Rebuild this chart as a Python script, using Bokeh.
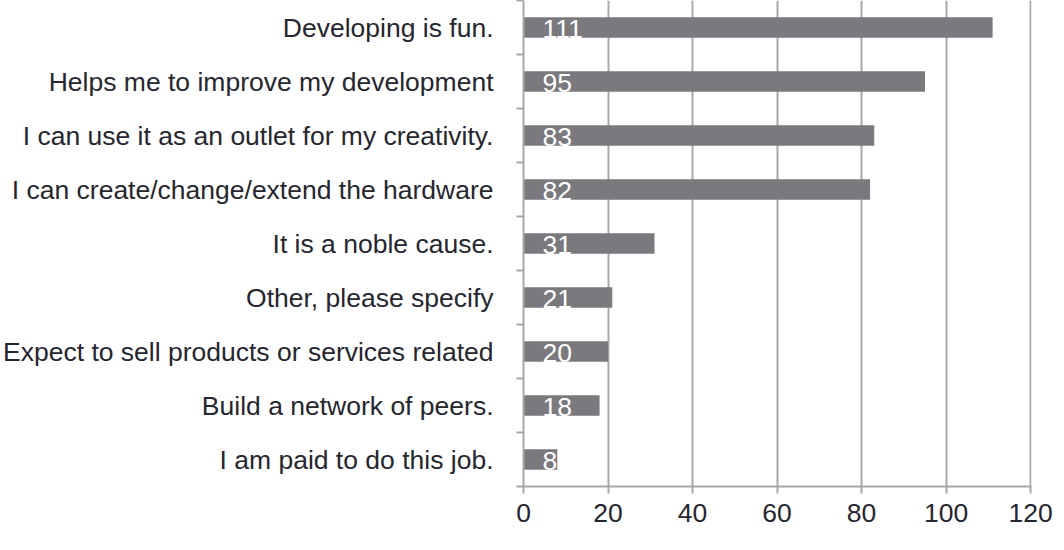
from bokeh.plotting import figure
from bokeh.models import Range1d, LinearAxis, FixedTicker, ColumnDataSource
from bokeh.core.properties import value
from bokeh.embed import file_html
from bokeh.resources import INLINE

categories = [
    "Developing is fun.",
    "Helps me to improve my development",
    "I can use it as an outlet for my creativity.",
    "I can create/change/extend the hardware",
    "It is a noble cause.",
    "Other, please specify",
    "Expect to sell products or services related",
    "Build a network of peers.",
    "I am paid to do this job.",
]
counts = [111, 95, 83, 82, 31, 21, 20, 18, 8]
x_ticks = [0, 20, 40, 60, 80, 100, 120]

FONT = "Liberation Sans"
FS = "26.5px"
TXT = "#26262e"
GRID = "#a8a8a8"
BAR = "#7a797e"

n = len(categories)
ypos = [i + 0.5 for i in range(n)]

src = ColumnDataSource(dict(y=ypos, v=counts, lbl=[str(c) for c in counts]))

p = figure(width=1056, height=534, output_backend="svg",
           toolbar_location=None,
           x_range=Range1d(0, 120.2), y_range=Range1d(n, 0),
           y_axis_location=None, x_axis_location=None,
           min_border_left=514, min_border_right=25, min_border_top=0,
           min_border_bottom=48)
p.title = None
p.outline_line_color = None
p.background_fill_color = "white"

# x axis
xa = LinearAxis(ticker=FixedTicker(ticks=x_ticks))
xa.axis_line_color = GRID
xa.axis_line_width = 2
xa.major_tick_line_color = GRID
xa.major_tick_line_width = 2
xa.major_tick_in = 0
xa.major_tick_out = 7
xa.minor_tick_line_color = None
xa.major_label_text_font = FONT
xa.major_label_text_font_size = FS
xa.major_label_text_color = TXT
xa.major_label_standoff = 10
p.add_layout(xa, "below")

# y axis: labels at centers, tick marks at boundaries (minor ticks)
ya = LinearAxis(ticker=FixedTicker(ticks=ypos, minor_ticks=list(range(n + 1))))
ya.major_label_overrides = {y: c for y, c in zip(ypos, categories)}
ya.axis_line_color = GRID
ya.axis_line_width = 2
ya.major_tick_line_color = None
ya.major_tick_in = 0
ya.major_tick_out = 0
ya.minor_tick_line_color = GRID
ya.minor_tick_line_width = 2
ya.minor_tick_in = 0
ya.minor_tick_out = 7
ya.major_label_text_font = FONT
ya.major_label_text_font_size = FS
ya.major_label_text_color = TXT
ya.major_label_standoff = 23
p.add_layout(ya, "left")

p.xgrid.ticker = FixedTicker(ticks=x_ticks)
p.xgrid.grid_line_color = GRID
p.xgrid.grid_line_width = 2
p.ygrid.grid_line_color = None

p.hbar(y="y", right="v", left=0, height=0.38, source=src, fill_color=BAR,
       line_color=None)
p.text(x=0, y="y", text="lbl", source=src, x_offset=19, y_offset=1,
       text_align="left", text_baseline="middle", text_color="white",
       text_font=value(FONT), text_font_size=FS)

open("out.html", "w").write(file_html(p, INLINE))
